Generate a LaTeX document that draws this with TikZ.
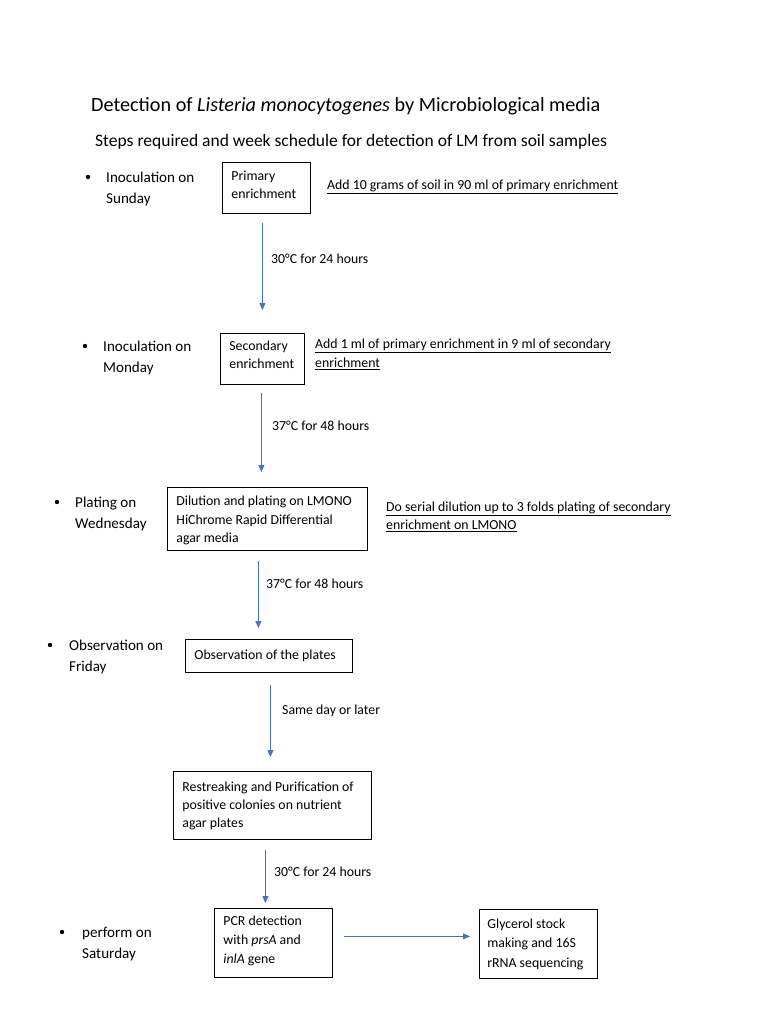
\documentclass[tikz,border=0pt]{standalone}
\usepackage{fontspec}
\setmainfont{Carlito}
\usetikzlibrary{arrows.meta}
\definecolor{arrblue}{HTML}{4472C4}
\begin{document}
\begin{tikzpicture}[x=1pt,y=-1pt,
  every node/.style={font=\fontsize{13.8}{18}\selectfont, inner sep=0pt},
  box/.style={draw, line width=0.8pt, inner xsep=9pt, inner ysep=0pt, align=left, anchor=north west,
    execute at begin node={\spaceskip=0pt\xspaceskip=0pt\relax}},
  lbl/.style={anchor=west, align=left, font=\fontsize{15.1}{21}\selectfont},
  note/.style={anchor=west, align=left},
  bul/.style={circle, fill, minimum size=4.4pt, inner sep=0pt},
  arr/.style={draw=arrblue, line width=0.75pt, -{Triangle[width=6pt,length=7pt]}},
  cond/.style={anchor=west}
]
\useasboundingbox[fill=white] (0,0) rectangle (768,1024);

% titles
\node[anchor=base west, font=\fontsize{20.2}{24}\selectfont] (title) at (91,112)
  {Detection of \textit{Listeria monocytogenes} by Microbiological media};
\node[anchor=base west, font=\fontsize{17.5}{21}\selectfont] (sub) at (95,146.5)
  {Steps required and week schedule for detection of LM from soil samples};

% boxes
\node[box, text width=70pt, minimum height=51pt] (p1) at (222,162) {Primary\\enrichment\rule[-6pt]{0pt}{0pt}};
\node[box, text width=66pt, minimum height=51pt] (p2) at (220,333) {Secondary\\enrichment\rule[-8pt]{0pt}{0pt}};
\node[box, text width=182pt, minimum height=63pt, font=\fontsize{13.8}{18.5}\selectfont] (p3) at (167,487) {\rule{0pt}{13pt}Dilution and plating on LMONO\\HiChrome Rapid Differential\\agar media};
\node[box, text width=149pt, minimum height=33pt] (p4) at (185,639) {Observation of the plates};
\node[box, text width=180pt, minimum height=68pt] (p5) at (173,771) {Restreaking and Purification of\\positive colonies on nutrient\\agar plates};
\node[box, text width=100pt, minimum height=69pt, font=\fontsize{13.8}{19}\selectfont] (pcr) at (214,908) {PCR detection\\with \textit{prsA} and\\\textit{inlA} gene\rule[-7pt]{0pt}{0pt}};
\node[box, inner xsep=8pt, text width=102pt, minimum height=69pt, font=\fontsize{13.8}{19.5}\selectfont] (gly) at (479,909) {Glycerol stock\\making and 16S\\rRNA sequencing};

% bullets and day labels
\node[bul] (b1) at (88,177) {};
\node[lbl] (l1) at (106,189) {Inoculation on\\Sunday};
\node[bul] (b2) at (85,346) {};
\node[lbl] (l2) at (103,357.5) {Inoculation on\\Monday};
\node[bul] (b3) at (57,502) {};
\node[lbl] (l3) at (75,514) {Plating on\\Wednesday};
\node[bul] (b4) at (50,645) {};
\node[lbl] (l4) at (69,657) {Observation on\\Friday};
\node[bul] (b6) at (62,932) {};
\node[lbl] (l6) at (82,944) {perform on\\Saturday};

% notes
\node[anchor=base west] (n1) at (327,189.5) {\underline{Add 10 grams of soil in 90 ml of primary enrichment}};
\node[note, font=\fontsize{13.8}{19}\selectfont] (n2) at (315,354.5) {\underline{Add 1 ml of primary enrichment in 9 ml of secondary}\\\underline{enrichment}};
\node[note] (n3) at (386,517) {\underline{Do serial dilution up to 3 folds plating of secondary}\\\underline{enrichment on LMONO}};

% arrow start points
\coordinate (s1) at ([xshift=-4pt]p1.south);
\coordinate (s2) at ([xshift=-1pt]p2.south);
\coordinate (s3) at ([xshift=-9pt]p3.south);
\coordinate (s4) at ([xshift=1.5pt]p4.south);
\coordinate (s5) at ([xshift=-7pt]p5.south);
\coordinate (s6) at ([yshift=6.5pt]pcr.east);

\draw[arr, shorten <=9pt, shorten >=23pt] (s1) -- (s1 |- p2.north);
\draw[arr, shorten <=8pt, shorten >=15pt] (s2) -- (s2 |- p3.north);
\draw[arr, shorten <=10pt, shorten >=11pt] (s3) -- (s3 |- p4.north);
\draw[arr, shorten <=12pt, shorten >=14pt] (s4) -- (s4 |- p5.north);
\draw[arr, shorten <=10pt, shorten >=5pt] (s5) -- (s5 |- pcr.north);
\draw[arr, shorten <=11pt, shorten >=9pt] (s6) -- (s6 -| gly.west);

% arrow labels
\node[cond] (c1) at (271,258.5) {30°C for 24 hours};
\node[cond] (c2) at (272,425.5) {37°C for 48 hours};
\node[cond] (c3) at (266,583.5) {37°C for 48 hours};
\node[cond] (c4) at (282,710.5) {Same day or later};
\node[cond] (c5) at (274,871.5) {30°C for 24 hours};
\end{tikzpicture}
\end{document}
